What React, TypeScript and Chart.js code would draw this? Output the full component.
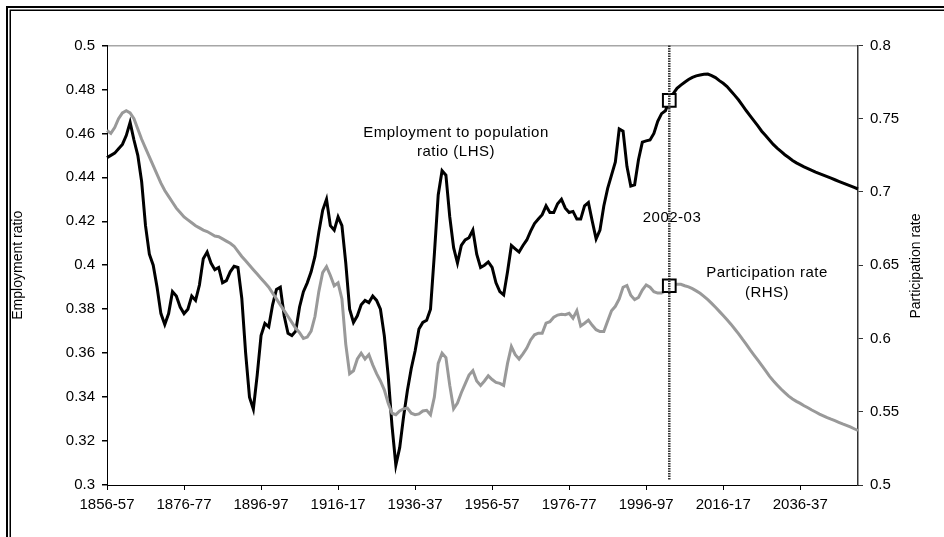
import React, { useEffect, useRef } from 'react';
import { Chart, registerables } from 'chart.js';

Chart.register(...registerables);

const FONT = '"Liberation Sans", Arial, sans-serif';

const START_YEAR = 1856;
const LABEL_EVERY = 20;
const MARKER_INDEX = 146; // 2002-03

// Employment to population ratio (LHS), one value per financial year from 1856-57
const EMPLOYMENT_RATIO = [
  0.449, 0.450, 0.451, 0.453, 0.455, 0.459, 0.465, 0.457, 0.450, 0.438,
  0.418, 0.405, 0.400, 0.390, 0.378, 0.373, 0.378, 0.388, 0.386, 0.381,
  0.378, 0.380, 0.386, 0.384, 0.391, 0.403, 0.406, 0.401, 0.398, 0.399,
  0.392, 0.393, 0.397, 0.3995, 0.399, 0.385, 0.360, 0.340, 0.3345, 0.350,
  0.368, 0.3735, 0.372, 0.382, 0.389, 0.390, 0.377, 0.369, 0.368, 0.370,
  0.381, 0.388, 0.392, 0.397, 0.404, 0.415, 0.425, 0.430, 0.418, 0.416,
  0.422, 0.418, 0.401, 0.380, 0.374, 0.377, 0.382, 0.384, 0.383, 0.386,
  0.384, 0.380, 0.368, 0.350, 0.327, 0.309, 0.317, 0.331, 0.343, 0.353,
  0.361, 0.371, 0.374, 0.375, 0.380, 0.405, 0.432, 0.443, 0.441, 0.422,
  0.408, 0.401, 0.409, 0.4115, 0.4125, 0.416, 0.405, 0.399, 0.400, 0.4015,
  0.399, 0.392, 0.388, 0.3865, 0.397, 0.409, 0.4075, 0.406, 0.409, 0.4115,
  0.4155, 0.419, 0.421, 0.423, 0.427, 0.424, 0.424, 0.428, 0.430, 0.426,
  0.424, 0.4245, 0.421, 0.421, 0.427, 0.4285, 0.420, 0.412, 0.416, 0.427,
  0.435, 0.441, 0.447, 0.462, 0.461, 0.445, 0.436, 0.4366, 0.448, 0.456,
  0.4566, 0.457, 0.460, 0.4655, 0.469, 0.4703, 0.475, 0.478, 0.4805, 0.482,
  0.4833, 0.4845, 0.4855, 0.4862, 0.4866, 0.4869, 0.487, 0.4863, 0.4854, 0.484,
  0.4828, 0.4813, 0.4793, 0.4773, 0.4752, 0.4728, 0.4703, 0.468, 0.4657, 0.4634,
  0.461, 0.459, 0.457, 0.455, 0.4533, 0.4518, 0.4503, 0.449, 0.4477, 0.4466,
  0.4457, 0.4448, 0.444, 0.4432, 0.4424, 0.4417, 0.441, 0.4403, 0.4396, 0.4389,
  0.4382, 0.4375, 0.4368, 0.4361, 0.4354, 0.4347,
];

// Participation rate (RHS)
const PARTICIPATION_RATE = [
  0.742, 0.740, 0.744, 0.750, 0.754, 0.7555, 0.754, 0.750, 0.743, 0.736,
  0.730, 0.724, 0.718, 0.712, 0.706, 0.701, 0.697, 0.693, 0.689, 0.686,
  0.683, 0.681, 0.679, 0.677, 0.6755, 0.674, 0.673, 0.6715, 0.670, 0.6695,
  0.668, 0.6665, 0.665, 0.663, 0.6595, 0.656, 0.653, 0.650, 0.647, 0.644,
  0.641, 0.638, 0.635, 0.631, 0.627, 0.623, 0.619, 0.615, 0.611, 0.607,
  0.604, 0.600, 0.601, 0.605, 0.615, 0.632, 0.645, 0.649, 0.643, 0.636,
  0.638, 0.627, 0.596, 0.576, 0.578, 0.586, 0.590, 0.586, 0.589, 0.582,
  0.576, 0.571, 0.565, 0.556, 0.549, 0.548, 0.5505, 0.552, 0.5525, 0.549,
  0.548, 0.5485, 0.5505, 0.551, 0.548, 0.560, 0.583, 0.590, 0.587, 0.568,
  0.552, 0.556, 0.563, 0.569, 0.575, 0.578, 0.571, 0.568, 0.571, 0.5745,
  0.572, 0.570, 0.5694, 0.568, 0.583, 0.5945, 0.589, 0.586, 0.5895, 0.5935,
  0.599, 0.6025, 0.6036, 0.6036, 0.6105, 0.6115, 0.6145, 0.616, 0.6165, 0.6162,
  0.6172, 0.6138, 0.619, 0.6085, 0.6104, 0.6125, 0.609, 0.606, 0.6047, 0.6047,
  0.612, 0.619, 0.622, 0.627, 0.635, 0.6362, 0.6295, 0.6265, 0.628, 0.633,
  0.6366, 0.635, 0.632, 0.631, 0.631, 0.6325, 0.636, 0.637, 0.637, 0.637,
  0.636, 0.6352, 0.634, 0.6325, 0.6309, 0.6288, 0.6265, 0.624, 0.6213, 0.6185,
  0.6157, 0.6128, 0.6098, 0.6065, 0.6032, 0.5995, 0.596, 0.5922, 0.5887, 0.5852,
  0.5816, 0.578, 0.5743, 0.5712, 0.5683, 0.5655, 0.563, 0.5607, 0.5587, 0.5571,
  0.5557, 0.5541, 0.5527, 0.5512, 0.5498, 0.5484, 0.5472, 0.546, 0.5449, 0.5439,
  0.5428, 0.5417, 0.5407, 0.5396, 0.5384, 0.5372,
];

const CATEGORIES = EMPLOYMENT_RATIO.map((_, i) => {
  const y = START_YEAR + i;
  return `${y}-${String((y + 1) % 100).padStart(2, '0')}`;
});

const LEFT_AXIS = { min: 0.3, max: 0.5, step: 0.02, title: 'Employment ratio' };
const RIGHT_AXIS = { min: 0.5, max: 0.8, step: 0.05, title: 'Participation rate' };

const fmt = (v: number) => String(Number(v.toFixed(2)));

const overlayPlugin = {
  id: 'overlay',
  afterDatasetsDraw(chart: any) {
    const { ctx, scales, chartArea } = chart;
    const xm = scales.x.getPixelForValue(MARKER_INDEX);
    ctx.save();
    ctx.fillStyle = '#000';
    ctx.font = `15px ${FONT}`;
    ctx.textAlign = 'center';
    ctx.textBaseline = 'middle';
    try { (ctx as any).letterSpacing = '0.5px'; } catch (e) {}
    ctx.fillText('Employment to population', 456, 133);
    ctx.fillText('ratio (LHS)', 456, 152);
    ctx.fillText('2002-03', 672, 218);
    ctx.fillText('Participation rate', 767, 273);
    ctx.fillText('(RHS)', 767, 293);
    try { (ctx as any).letterSpacing = '0px'; } catch (e) {}

    // vertical dotted marker line
    ctx.strokeStyle = '#333';
    ctx.lineWidth = 2.5;
    ctx.setLineDash([1.5, 1]);
    ctx.beginPath();
    ctx.moveTo(xm, chartArea.top);
    ctx.lineTo(xm, chartArea.bottom - 5);
    ctx.stroke();
    ctx.restore();
  },
  afterDraw(chart: any) {
    const { ctx, width, height } = chart;
    ctx.save();
    // right axis title, reading bottom to top
    ctx.fillStyle = '#000';
    ctx.font = `14px ${FONT}`;
    ctx.textAlign = 'center';
    ctx.textBaseline = 'middle';
    ctx.translate(916, 266);
    ctx.rotate(-Math.PI / 2);
    ctx.fillText(RIGHT_AXIS.title, 0, 0);
    ctx.restore();

    // double frame (top and left)
    ctx.save();
    ctx.strokeStyle = '#000';
    ctx.lineWidth = 2;
    ctx.beginPath();
    ctx.moveTo(7, height);
    ctx.lineTo(7, 7);
    ctx.lineTo(width, 7);
    ctx.stroke();
    ctx.lineWidth = 1.5;
    ctx.beginPath();
    ctx.moveTo(10.25, height);
    ctx.lineTo(10.25, 10.25);
    ctx.lineTo(width, 10.25);
    ctx.stroke();
    ctx.restore();
  },
};

export default function App() {
  const ref = useRef<HTMLCanvasElement | null>(null);

  useEffect(() => {
    document.body.style.margin = '0';
    const canvas = ref.current;
    if (!canvas) return;
    const chart = new Chart(canvas, {
      type: 'line',
      data: {
        labels: CATEGORIES,
        datasets: [
          {
            label: 'Employment to population ratio (LHS)',
            data: EMPLOYMENT_RATIO,
            yAxisID: 'y',
            borderColor: '#000',
            borderWidth: 3,
            tension: 0,
            order: 1,
            pointStyle: 'rect',
            pointRadius: (c: any) => (c.dataIndex === MARKER_INDEX ? 9 : 0),
            pointHoverRadius: 0,
            pointBackgroundColor: '#fff',
            pointBorderColor: '#000',
            pointBorderWidth: 2,
          },
          {
            label: 'Participation rate (RHS)',
            data: PARTICIPATION_RATE,
            yAxisID: 'y2',
            borderColor: '#999999',
            borderWidth: 3,
            tension: 0,
            order: 0,
            pointStyle: 'rect',
            pointRadius: (c: any) => (c.dataIndex === MARKER_INDEX ? 9 : 0),
            pointHoverRadius: 0,
            pointBackgroundColor: '#fff',
            pointBorderColor: '#000',
            pointBorderWidth: 2,
          },
        ],
      },
      options: {
        animation: false,
        responsive: false,
        maintainAspectRatio: false,
        events: [],
        layout: { padding: { top: 45.5, left: 0, right: 0, bottom: 0 } },
        plugins: {
          legend: { display: false },
          tooltip: { enabled: false },
        },
        scales: {
          x: {
            type: 'category',
            offset: false,
            afterFit: (s: any) => { s.height = 52; },
            border: { color: '#000', width: 1 },
            grid: {
              drawOnChartArea: false,
              drawTicks: true,
              tickLength: 5,
              tickColor: (c: any) => (c.index % LABEL_EVERY === 0 ? '#000' : 'rgba(0,0,0,0)'),
            },
            ticks: {
              autoSkip: false,
              maxRotation: 0,
              minRotation: 0,
              padding: 6,
              color: '#000',
              font: { family: FONT, size: 15 },
              callback: (_v: any, i: number) => (i % LABEL_EVERY === 0 ? CATEGORIES[i] : ''),
            },
          },
          y: {
            position: 'left',
            min: LEFT_AXIS.min,
            max: LEFT_AXIS.max,
            afterFit: (s: any) => { s.width = 107; },
            border: { color: '#000', width: 1 },
            grid: {
              drawOnChartArea: true,
              drawTicks: true,
              tickLength: 5,
              lineWidth: 1.5,
              color: (c: any) => (c.tick && c.tick.value >= LEFT_AXIS.max - 1e-6 ? '#a6a6a6' : 'rgba(0,0,0,0)'),
              tickColor: '#000',
            },
            ticks: {
              stepSize: LEFT_AXIS.step,
              padding: 7,
              color: '#000',
              font: { family: FONT, size: 15 },
              callback: (v: any) => fmt(Number(v)),
            },
            title: {
              display: true,
              text: LEFT_AXIS.title,
              color: '#000',
              font: { family: FONT, size: 14 },
              padding: { top: 10, bottom: 0 },
            },
          },
          y2: {
            position: 'right',
            min: RIGHT_AXIS.min,
            max: RIGHT_AXIS.max,
            afterFit: (s: any) => { s.width = 86; },
            border: { color: '#333', width: 1.5 },
            grid: {
              drawOnChartArea: false,
              drawTicks: true,
              tickLength: 5,
              tickColor: '#333',
            },
            ticks: {
              stepSize: RIGHT_AXIS.step,
              padding: 7,
              color: '#000',
              font: { family: FONT, size: 15 },
              callback: (v: any) => fmt(Number(v)),
            },
          },
        },
      },
      plugins: [overlayPlugin],
    } as any);
    return () => chart.destroy();
  }, []);

  return (
    <div style={{ width: 944, height: 537, background: '#fff' }}>
      <canvas ref={ref} width={944} height={537} />
    </div>
  );
}
